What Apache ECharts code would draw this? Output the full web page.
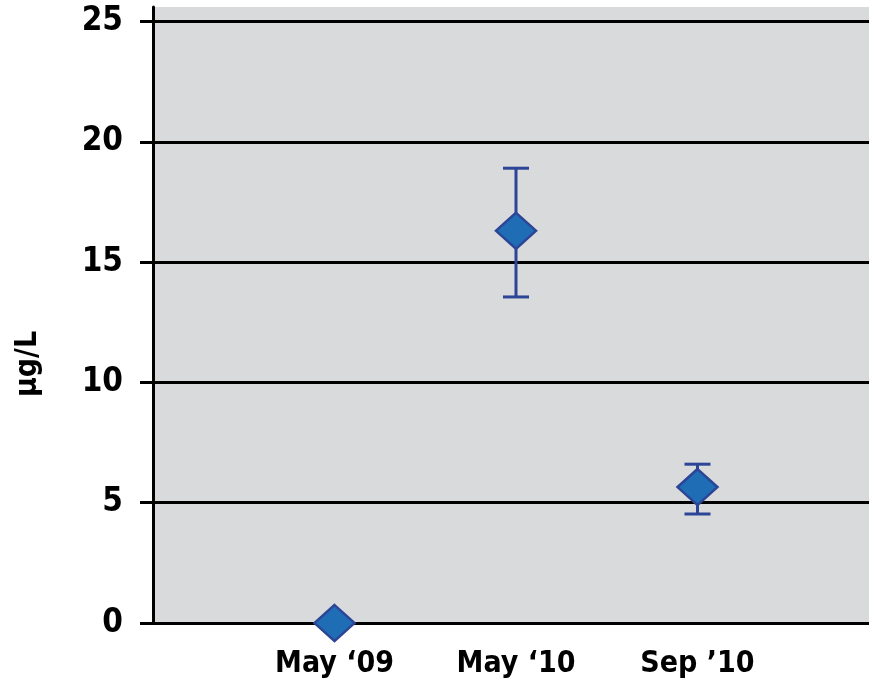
<!DOCTYPE html>
<html>
<head>
<meta charset="utf-8">
<script src="https://cdn.jsdelivr.net/npm/echarts@6/dist/echarts.min.js"></script>
<style>
  html, body { margin: 0; padding: 0; background: #fff; }
  #chart { width: 869px; height: 687px; }
</style>
</head>
<body>
<div id="chart"></div>
<script>
// data
var categories = ['', 'May \u201809', 'May \u201810', 'Sep \u201910', ''];
var means = [null, 0, 16.3, 5.65, null];
var lows = [null, null, 13.55, 4.53, null];
var highs = [null, null, 18.9, 6.6, null];
var yTicks = [0, 5, 10, 15, 20, 25];

var FONT = "'DejaVu Sans Condensed', 'Liberation Sans Narrow', sans-serif";

window.onload = function () {
    var myChart = echarts.init(document.getElementById('chart'));

    var errData = [];
    for (var i = 0; i < categories.length; i++) {
        if (lows[i] != null) {
            errData.push([i, lows[i], highs[i]]);
        }
    }

    var option = {
        animation: false,
        grid: {
            left: 153, right: -10, top: 7, bottom: 64,
            outerBoundsMode: 'none',
            containLabel: false,
            show: true, backgroundColor: '#d9dadc', borderWidth: 0
        },
        xAxis: {
            type: 'category',
            data: categories,
            boundaryGap: false,
            axisLine: { lineStyle: { color: '#000', width: 3 } },
            axisTick: { show: false },
            axisLabel: { color: '#000', fontFamily: FONT, fontWeight: 'bold', fontSize: 30, margin: 26 },
            splitLine: { show: false }
        },
        yAxis: {
            type: 'value',
            min: 0,
            max: 25.6,
            interval: 5,
            name: '\u00b5g/L',
            nameLocation: 'middle',
            nameRotate: 90,
            nameGap: 110,
            nameTextStyle: { color: '#000', fontFamily: FONT, fontWeight: 'bold', fontSize: 30, padding: [0, 98, 0, 0] },
            axisLine: { show: true, lineStyle: { color: '#000', width: 3 } },
            axisTick: { show: true, length: 13, customValues: yTicks, lineStyle: { color: '#000', width: 3 } },
            axisLabel: { color: '#000', fontFamily: FONT, fontWeight: 'bold', fontSize: 33, margin: 30, customValues: yTicks },
            splitLine: { show: true, lineStyle: { color: '#000', width: 3 } }
        },
        series: [
            {
                type: 'custom',
                data: errData,
                z: 3,
                renderItem: function (params, api) {
                    var lo = api.coord([api.value(0), api.value(1)]);
                    var hi = api.coord([api.value(0), api.value(2)]);
                    var w = 13;
                    var style = { stroke: '#2c4596', lineWidth: 3 };
                    return {
                        type: 'group',
                        children: [
                            { type: 'line', shape: { x1: hi[0], y1: hi[1], x2: lo[0], y2: lo[1] }, style: style },
                            { type: 'line', shape: { x1: hi[0] - w, y1: hi[1], x2: hi[0] + w, y2: hi[1] }, style: style },
                            { type: 'line', shape: { x1: lo[0] - w, y1: lo[1], x2: lo[0] + w, y2: lo[1] }, style: style }
                        ]
                    };
                }
            },
            {
                type: 'scatter',
                data: means,
                symbol: 'diamond',
                symbolSize: [40, 36],
                z: 4,
                itemStyle: { color: '#1f6db5', borderColor: '#2c4596', borderWidth: 2.5, opacity: 1 }
            }
        ]
    };

    myChart.setOption(option);
};
</script>
</body>
</html>
